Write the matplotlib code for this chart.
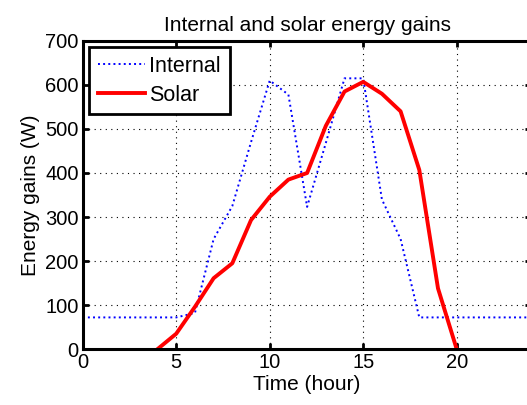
import matplotlib
matplotlib.use('Agg')
import matplotlib.pyplot as plt
import numpy as np

plt.rcParams['font.family'] = ['Liberation Sans', 'DejaVu Sans']

# Hourly energy gains (W)
hours_internal = np.arange(0, 25)
internal = [72, 72, 72, 72, 72, 72, 82, 250, 325, 470, 610, 578, 323,
            468, 615, 615, 340, 250, 72, 72, 72, 72, 72, 72, 72]

hours_solar = np.arange(4, 21)
solar = [0, 35, 96, 161, 195, 293, 346, 385, 400, 507, 585, 607, 580,
         540, 407, 138, 0]

fig = plt.figure(figsize=(5.27, 4.05), dpi=100)
ax = fig.add_axes([0.157, 0.138, 0.8515, 0.761])

ax.plot(hours_internal, internal, color='#0000ff', linestyle=':',
        linewidth=1.4, label='Internal')
ax.plot(hours_solar, solar, color='#ff0000', linestyle='-',
        linewidth=2.8, label='Solar')

ax.set_xlim(0, 24)
ax.set_ylim(0, 700)
ax.set_xticks([0, 5, 10, 15, 20])
ax.set_yticks(np.arange(0, 701, 100))

ax.grid(True, color='black', linestyle=(0, (1, 4)), linewidth=0.8)
ax.set_axisbelow(True)

for s in ax.spines.values():
    s.set_linewidth(2.2)
ax.tick_params(direction='in', length=4, width=2, top=True, right=True,
               labelsize=14.5, pad=3)

ax.set_xlabel('Time (hour)', fontsize=15, labelpad=2)
ax.set_ylabel('Energy gains (W)', fontsize=15, labelpad=4)
ax.set_title('Internal and solar energy gains', fontsize=15, pad=7)

leg = ax.legend(loc='upper left', fontsize=15.5, handlelength=2.2,
                handletextpad=0.2, labelspacing=0.35, borderpad=0.4,
                borderaxespad=0.3, fancybox=False, framealpha=1)
leg.get_frame().set_edgecolor('black')
leg.get_frame().set_linewidth(2)

fig.savefig('out.png', dpi=100)
